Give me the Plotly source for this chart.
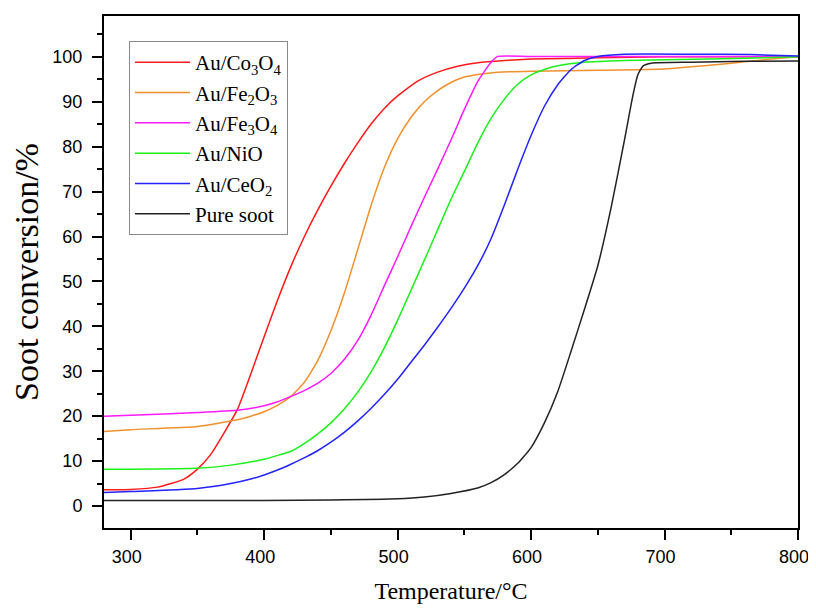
import plotly.graph_objects as go

# ---- data ----
t_co3o4 = [280, 300, 320, 340, 350, 360, 370, 380, 390, 400, 410, 420, 430, 440, 450, 460, 470, 480, 490, 500, 515, 530, 545, 560, 580, 600, 650, 700, 800]
v_co3o4 = [3.6, 3.7, 4.2, 6.0, 8.2, 11.5, 16.3, 21.5, 29.4, 37.7, 45.8, 53.3, 59.9, 65.8, 71.2, 76.2, 80.8, 85.0, 88.5, 91.3, 94.6, 96.6, 97.9, 98.7, 99.2, 99.5, 99.8, 100.0, 100.0]

t_fe2o3 = [280, 300, 350, 380, 390, 400, 410, 420, 430, 440, 450, 460, 470, 480, 490, 500, 510, 520, 530, 540, 550, 560, 575, 600, 650, 700, 720, 740, 760, 780, 800]
v_fe2o3 = [16.6, 17.0, 17.7, 19.2, 20.0, 21.0, 22.4, 24.4, 27.5, 32.3, 39.0, 47.3, 57.0, 66.8, 75.3, 81.8, 86.5, 90.0, 92.5, 94.3, 95.5, 96.1, 96.6, 96.8, 97.0, 97.3, 97.8, 98.3, 98.9, 99.5, 100.0]

t_fe3o4 = [280, 300, 350, 380, 400, 410, 420, 430, 440, 450, 460, 470, 480, 490, 500, 510, 520, 530, 540, 550, 560, 570, 575, 600, 700, 800]
v_fe3o4 = [20.0, 20.2, 20.8, 21.3, 22.3, 23.2, 24.4, 25.7, 27.3, 29.5, 32.6, 36.8, 42.4, 49.0, 55.5, 62.2, 68.7, 75.0, 81.5, 88.3, 94.5, 98.8, 100.1, 100.1, 100.1, 100.1]

t_nio = [280, 300, 350, 375, 400, 420, 430, 440, 450, 460, 470, 480, 490, 500, 510, 520, 530, 540, 550, 560, 570, 580, 590, 600, 610, 620, 640, 670, 710, 760, 800]
v_nio = [8.2, 8.2, 8.4, 9.1, 10.4, 12.2, 13.9, 16.0, 18.5, 21.6, 25.3, 29.8, 35.2, 41.4, 48.0, 54.7, 61.5, 68.3, 74.5, 80.8, 86.3, 90.6, 93.9, 96.0, 97.2, 98.0, 98.8, 99.2, 99.4, 99.7, 100.0]

t_ceo2 = [280, 300, 350, 375, 390, 400, 410, 420, 430, 440, 450, 460, 470, 480, 490, 500, 510, 520, 530, 540, 550, 560, 570, 580, 590, 600, 610, 620, 630, 640, 650, 670, 720, 765, 800]
v_ceo2 = [3.0, 3.2, 3.9, 5.0, 6.0, 6.9, 8.0, 9.3, 10.7, 12.3, 14.2, 16.4, 18.9, 21.7, 24.8, 28.2, 32.0, 35.8, 39.8, 44.0, 48.5, 53.5, 59.5, 67.0, 75.0, 82.5, 89.0, 93.8, 97.2, 99.2, 100.1, 100.6, 100.6, 100.5, 100.2]

t_soot = [280, 350, 400, 450, 500, 520, 540, 560, 570, 580, 590, 600, 610, 620, 630, 640, 650, 660, 670, 676, 680, 684, 690, 720, 760, 800]
v_soot = [1.2, 1.2, 1.25, 1.35, 1.6, 2.0, 2.8, 4.0, 5.2, 7.0, 9.5, 13.0, 18.5, 25.5, 34.5, 43.8, 53.5, 66.5, 81.5, 91.0, 96.0, 98.0, 98.6, 98.8, 99.0, 99.1]

names = ["Au/Co<sub>3</sub>O<sub>4</sub>", "Au/Fe<sub>2</sub>O<sub>3</sub>", "Au/Fe<sub>3</sub>O<sub>4</sub>",
         "Au/NiO", "Au/CeO<sub>2</sub>", "Pure soot"]
colors = ["#FF1A1A", "#F0912E", "#FF1AFF", "#1AF01A", "#2323FF", "#222222"]
series = [(t_co3o4, v_co3o4), (t_fe2o3, v_fe2o3), (t_fe3o4, v_fe3o4),
          (t_nio, v_nio), (t_ceo2, v_ceo2), (t_soot, v_soot)]

x_ticks = [300, 400, 500, 600, 700, 800]
y_ticks = [0, 10, 20, 30, 40, 50, 60, 70, 80, 90, 100]

fig = go.Figure()
for (t, v), n, c in zip(series, names, colors):
    fig.add_trace(go.Scatter(x=t, y=v, name=n, mode="lines",
                             line=dict(color=c, width=1.5, shape="spline", smoothing=0.5)))

axis_common = dict(showline=True, linecolor="black", linewidth=2, mirror=True,
                   ticks="outside", ticklen=10, tickwidth=1.5, tickcolor="black",
                   showgrid=False, zeroline=False, automargin=False,
                   ticklabeloverflow="allow",
                   tickfont=dict(family="Liberation Sans", size=18, color="black"))

# the page body adds an 8px offset; the figure is sized to reach the window's right edge
fig.update_layout(
    width=808, height=596,
    margin=dict(l=96, r=18, t=8, b=76),
    paper_bgcolor="white", plot_bgcolor="white",
    showlegend=True,
    legend=dict(x=0.036, y=0.951, xanchor="left", yanchor="top",
                bordercolor="#8a8a8a", borderwidth=1, bgcolor="white",
                font=dict(family="Liberation Serif", size=21, color="black"),
                itemwidth=55, tracegroupgap=0),
    xaxis=dict(range=[280, 800], tickvals=x_ticks, ticklabelstandoff=1, ticklabelshift=-4,
               minor=dict(dtick=50, tick0=0, ticks="outside", ticklen=5, tickwidth=1.5, tickcolor="black"),
               title=dict(text="Temperature/°C", standoff=19,
                          font=dict(family="Liberation Serif", size=24, color="black")),
               **axis_common),
    yaxis=dict(range=[-4.9, 109.1], tickvals=y_ticks, ticklabelstandoff=6,
               minor=dict(dtick=5, tick0=0, ticks="outside", ticklen=5, tickwidth=1.5, tickcolor="black"),
               title=dict(text="Soot conversion/%", standoff=12,
                          font=dict(family="Liberation Serif", size=34, color="black")),
               **axis_common),
)

fig.write_html("out.html")
